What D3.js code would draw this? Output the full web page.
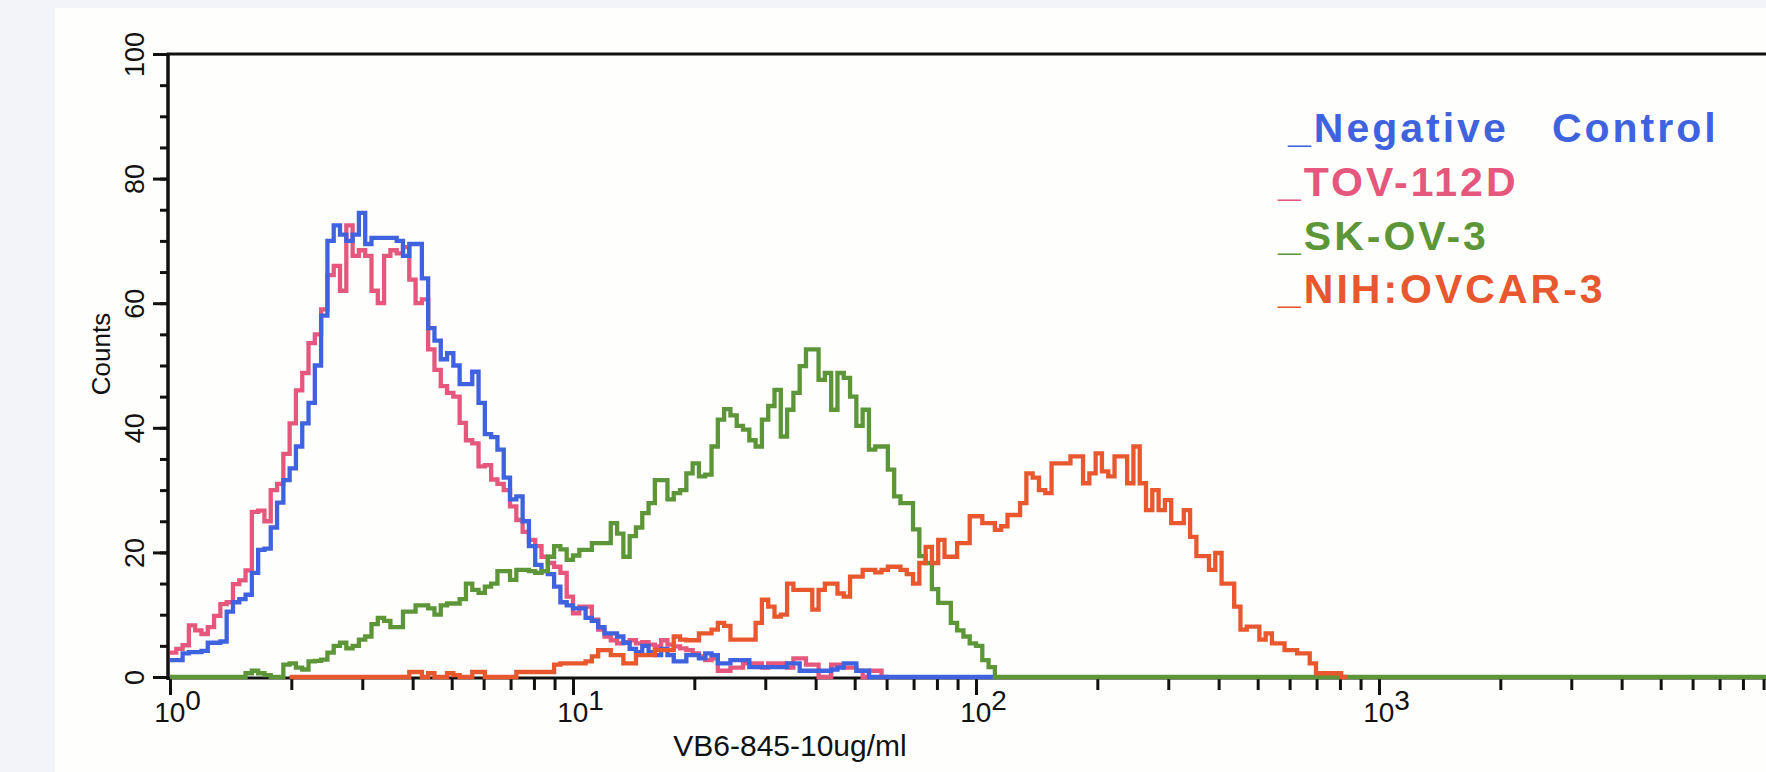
<!DOCTYPE html>
<html lang="en">
<head>
<meta charset="UTF-8">
<title>VB6-845 flow cytometry histogram</title>
<script src="https://d3js.org/d3.v7.min.js"></script>
<style>
    html, body { margin: 0; padding: 0; background: #f2f4f9; }
    svg { display: block; font-family: "Liberation Sans", Arial, sans-serif; }
    .legend text { white-space: pre; font-weight: bold; }
</style>
</head>
<body>
<div id="chart"></div>
<script>
// 256 channels over 4 log decades (10^0 .. 10^4)
const CHANNELS = 256;
const DECADES = 4;

// counts per channel
const negControl = [
    2.7, 2.7, 3.8, 4, 4, 4.2, 5.5, 5.5, 5.7, 10.5,
    12, 12.5, 13.2, 16.7, 20.4, 20.6, 24, 28, 31.6, 33.5,
    37, 40.7, 44, 50, 58, 70, 72.5, 71, 70, 71,
    74.5, 69.5, 70.5, 70.5, 70.5, 70.5, 70, 67.6, 69.5, 69.5,
    64, 56, 54, 51, 52, 50, 47, 47, 49, 44,
    39, 38.5, 36.5, 32, 28.5, 29, 25, 21, 18, 17,
    16.5, 14.5, 12, 11.5, 11, 11, 9.5, 9, 8, 7,
    7, 6.5, 5.5, 4.5, 4, 5, 4, 3.5, 4.5, 3.5,
    2.5, 2.5, 3.5, 3.5, 3, 3.8, 3.5, 2.2, 2.2, 2.7,
    2.7, 2.7, 1.6, 1.6, 1.6, 1.6, 1.6, 1.6, 2.2, 2.2,
    1, 1, 1, 1, 1, 1.2, 1.5, 2.2, 2.2, 1,
    1, 0
];
const tov112d = [
    3.9, 4.5, 5.1, 8.3, 7.5, 6.9, 8, 9.8, 11.7, 12,
    14.9, 15.5, 17.1, 26.5, 26.7, 25, 30, 31, 35.8, 40.7,
    46, 48.8, 53.6, 55, 59, 64.5, 66, 62, 72.5, 67.6,
    68.5, 67.6, 62, 60, 67.6, 68.5, 68, 69, 63.8, 60,
    60.6, 52.6, 49.3, 46.7, 45.6, 45, 40.8, 38, 37.5, 33.8,
    34, 31.7, 31, 30, 27.4, 25.2, 23.3, 22, 21, 19.3,
    18.3, 17.7, 16.7, 12.9, 10.2, 11.3, 11.3, 9.2, 7.6, 6.5,
    5.9, 5.4, 5.6, 5.9, 5.4, 5.6, 5.2, 4.9, 5.9, 5.2,
    4.9, 4.6, 4.3, 3.8, 3.3, 2.7, 3, 1, 1, 1.5,
    1.5, 2.2, 2.2, 2.2, 1.5, 2.2, 2.2, 2.2, 1.5, 3,
    3, 2, 2, 0, 0, 2, 2, 1.5, 1.5, 1,
    0, 1, 1, 0
];
const skov3 = [
    0, 0, 0, 0, 0, 0, 0, 0, 0, 0,
    0, 0, 0.6, 1, 0.6, 0.3, 0, 0, 2, 2.2,
    1.5, 1.2, 2.5, 2.6, 2.8, 3.9, 5, 5.5, 4.6, 5,
    6, 6.5, 8.5, 9.5, 9, 8, 8, 10.5, 10.5, 11.5,
    11.5, 11, 10, 11.5, 11.8, 11.8, 12.5, 15, 14, 13.5,
    14.5, 15, 17, 17, 15.6, 17.2, 17.2, 17, 16.7, 17,
    19.3, 21, 20.5, 18.8, 19.5, 20.4, 20.4, 21.5, 21.5, 21.5,
    24.7, 23, 19.3, 22.6, 24, 26.3, 27.9, 31.6, 31.6, 28.5,
    29.5, 30, 32.7, 34.3, 32.2, 32.5, 37, 41.3, 43, 42,
    40.3, 39.7, 38, 37, 41.3, 43.5, 46.1, 38.6, 42.9, 45.6,
    49.9, 52.6, 52.6, 47.7, 48.8, 42.9, 48.8, 48, 45, 40.3,
    42.9, 36.5, 37, 37, 33.3, 29, 27.9, 27.9, 23.7, 19.4,
    18.3, 14.1, 11.9, 11.9, 8.7, 7.5, 6.5, 5.4, 5, 2.7,
    1.6, 0
];
const nihOvcar3 = [
    0, 0, 0, 0, 0, 0, 0, 0, 0, 0, 0, 0, 0, 0, 0, 0, 0, 0, 0,
    0.8, 0.8, 0, 0.6, 0, 0, 0.6, 0.3, 0, 0,
    0.8, 0.8, 0, 0, 0, 0, 0, 0.8, 0.8, 0.8,
    0.8, 0.8, 0.8, 2, 2.2, 2.2, 2.2, 2.2, 2.5, 3.3,
    4.3, 4.3, 3.5, 3.5, 2.2, 2.2, 3.5, 3.5, 3.5, 4.3,
    4.3, 4.3, 6.5, 6, 5.9, 5.9, 7, 7, 7.6, 8.7,
    8.2, 6, 6, 6, 6, 8.7, 12.4, 11.3, 9.7, 10,
    15, 14, 14, 14, 10.8, 14, 15, 15, 13.4, 12.9,
    16.1, 16.1, 17.2, 17.2, 16.8, 17.2, 17.7, 17.7, 17.2, 16.5,
    15, 18.3, 20.9, 18.3, 22, 19.3, 19.3, 21.5, 21.5, 25.8,
    25.8, 24.7, 24.7, 23.6, 24.2, 26, 26, 27.9, 32.7, 32,
    30, 29.5, 34.3, 34.3, 34.3, 35.4, 35.4, 31.1, 32.7, 35.9,
    33, 32.2, 35.4, 35.4, 31.1, 37, 31.1, 26.8, 30, 26.8,
    28.4, 24.7, 24.7, 26.8, 22.5, 19.4, 19.4, 17.2, 19.9, 15,
    15, 11.3, 7.6, 8.1, 8.1, 6, 7, 5.4, 5.4, 4.3,
    4.3, 3.8, 3.8, 2.2, 0.6, 0.6, 0.6, 0.6, 0
];

// first channel of each array and the channel where its line stops
const negControlRange = [0, 131];
const tov112dRange = [0, 114];
const skov3Range = [0, 256];
const nihOvcar3Range = [19, 187];

const legendLabels = ["_Negative   Control", "_TOV-112D", "_SK-OV-3", "_NIH:OVCAR-3"];
const yTicksMajor = [0, 20, 40, 60, 80, 100];
const xDecades = [1, 10, 100, 1000, 10000];
const xTitle = "VB6-845-10ug/ml";
const yTitle = "Counts";

const colors = {
    neg: "#3f63df",
    tov: "#e5577d",
    sk: "#5c9639",
    nih: "#e9572f"
};

const W = 1766, H = 772;
const svg = d3.select("#chart").append("svg")
    .attr("width", W)
    .attr("height", H);

// paper
svg.append("rect").attr("x", 55).attr("y", 8).attr("width", W - 55).attr("height", H - 8).attr("fill", "#fefefc");

const x = d3.scaleLog().domain([1, 10000]).range([170, 1782]);
const y = d3.scaleLinear().domain([0, 100]).range([677, 54]);

const chanValue = ch => Math.pow(10, ch * DECADES / CHANNELS);

// x axis: minor ticks then decades
const minorVals = [];
[1, 10, 100, 1000].forEach(d => { for (let k = 2; k <= 9; k++) minorVals.push(d * k); });

svg.append("g")
    .attr("transform", `translate(0,${y(0)})`)
    .call(d3.axisBottom(x).tickValues(minorVals).tickSize(13).tickFormat(""))
    .call(g => g.select(".domain").remove())
    .call(g => g.selectAll("line").attr("stroke", "#111").attr("stroke-width", 3));

const xMajor = svg.append("g")
    .attr("transform", `translate(0,${y(0)})`)
    .call(d3.axisBottom(x).tickValues(xDecades).tickSize(18).tickFormat(""))
    .call(g => g.select(".domain").remove())
    .call(g => g.selectAll("line").attr("stroke", "#111").attr("stroke-width", 3));

xMajor.selectAll(".tick").each(function(d) {
    const t = d3.select(this).append("text")
        .attr("fill", "#111")
        .attr("font-size", 28)
        .attr("text-anchor", "middle")
        .attr("x", 7)
        .attr("y", 45);
    t.append("tspan").text("10");
    t.append("tspan").attr("dy", -12).text(Math.round(Math.log10(d)));
});

// baseline
svg.append("line")
    .attr("x1", x(1)).attr("x2", W)
    .attr("y1", y(0) + 1).attr("y2", y(0) + 1)
    .attr("stroke", "#111").attr("stroke-width", 3);

// y axis: minor ticks every 5, labelled every 20
svg.append("g")
    .attr("transform", `translate(${x(1) - 2},0)`)
    .call(d3.axisLeft(y).tickValues(d3.range(0, 101, 5)).tickSize(8).tickFormat(""))
    .call(g => g.select(".domain").remove())
    .call(g => g.selectAll("line").attr("stroke", "#111").attr("stroke-width", 3));

svg.append("g")
    .attr("transform", `translate(${x(1) - 2},0)`)
    .call(d3.axisLeft(y).tickValues(yTicksMajor).tickSize(15))
    .call(g => g.select(".domain").remove())
    .call(g => g.selectAll("line").attr("stroke", "#111").attr("stroke-width", 3))
    .call(g => g.selectAll("text")
        .attr("fill", "#111")
        .attr("font-size", 27)
        .attr("font-family", "Liberation Sans, Arial, sans-serif")
        .attr("x", null).attr("dy", null)
        .attr("text-anchor", "middle")
        .attr("transform", "translate(-24,0) rotate(-90)"));

// frame: left and top
svg.append("line")
    .attr("x1", x(1) - 2).attr("x2", x(1) - 2)
    .attr("y1", y(100) - 1).attr("y2", y(0) + 3)
    .attr("stroke", "#111").attr("stroke-width", 3.5);
svg.append("line")
    .attr("x1", x(1) - 3).attr("x2", W)
    .attr("y1", y(100)).attr("y2", y(100))
    .attr("stroke", "#111").attr("stroke-width", 3);

// histograms
const line = d3.line()
    .x(p => x(chanValue(p[0])))
    .y(p => y(p[1]))
    .curve(d3.curveStepAfter);

function histPoints(counts, range) {
    const pts = counts.map((v, i) => [range[0] + i, v]);
    pts.push([range[1], counts[counts.length - 1]]);
    return pts;
}

const series = [
    { counts: tov112d, range: tov112dRange, color: colors.tov },
    { counts: negControl, range: negControlRange, color: colors.neg },
    { counts: skov3, range: skov3Range, color: colors.sk },
    { counts: nihOvcar3, range: nihOvcar3Range, color: colors.nih }
];

svg.append("g")
    .selectAll("path")
    .data(series)
    .join("path")
    .attr("d", s => line(histPoints(s.counts, s.range)))
    .attr("fill", "none")
    .attr("stroke", s => s.color)
    .attr("stroke-width", 4.3)
    .attr("stroke-linejoin", "miter");

// titles
svg.append("text")
    .attr("x", 790).attr("y", 756)
    .attr("text-anchor", "middle")
    .attr("font-size", 30)
    .attr("fill", "#111")
    .text(xTitle);

svg.append("text")
    .attr("transform", "translate(110,354) rotate(-90)")
    .attr("text-anchor", "middle")
    .attr("font-size", 26)
    .attr("fill", "#111")
    .text(yTitle);

// legend
const legendColors = [colors.neg, colors.tov, colors.sk, colors.nih];
const legendX = [1288, 1278, 1278, 1278];
const legendY = [142, 196, 250, 303];
svg.append("g").attr("class", "legend")
    .selectAll("text")
    .data(legendLabels)
    .join("text")
    .attr("x", (d, i) => legendX[i])
    .attr("y", (d, i) => legendY[i])
    .attr("font-size", 41)
    .attr("letter-spacing", 3)
    .attr("fill", (d, i) => legendColors[i])
    .text(d => d);
</script>
</body>
</html>
